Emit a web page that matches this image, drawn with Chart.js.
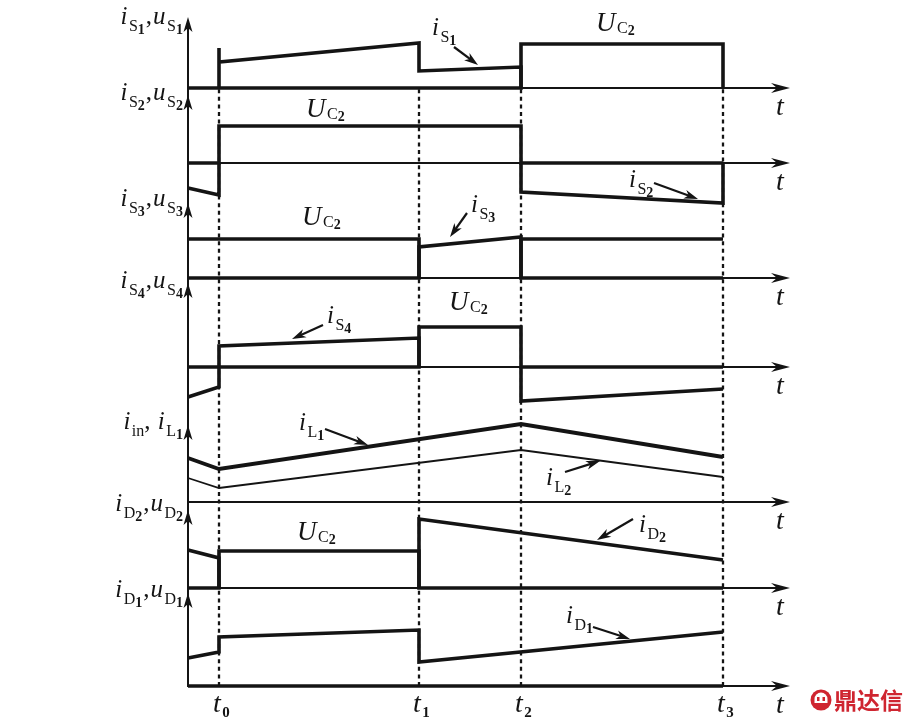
<!DOCTYPE html>
<html>
<head>
<meta charset="utf-8">
<script src="https://cdn.jsdelivr.net/npm/chart.js@4/dist/chart.umd.min.js"></script>
<style>
html,body{margin:0;padding:0;background:#fff;}
#wrap{width:911px;height:721px;position:relative;}
</style>
</head>
<body>
<div id="wrap"><canvas id="c"></canvas></div>
<script>
// ---------- switching instants (time axis) ----------
const T_TICKS = [0.31, 2.31, 3.33, 5.35];          // t0 .. t3
const T_TICK_SUBS = ['0', '1', '2', '3'];          // tick label subscripts
const T_END = 6.02;                                 // end of time axes (arrow tip)
const [t0, t1, t2, t3] = T_TICKS;

// ---------- waveforms: [time, value] (value relative to the panel's zero line) ----------
const uS1 = [[0,0],[t2,0],[t2,4.4],[t3,4.4],[t3,0]];
const iS1 = [[t0,0],[t0,4.0],[t0,2.6],[t1,4.5],[t1,1.7],[t2,2.1],[t2,0]];
const uS2 = [[0,0],[t0,0],[t0,3.7],[t2,3.7],[t2,0],[t3,0]];
const iS2 = [[0,-2.5],[t0,-3.2],[t0,0],null,[t2,0],[t2,-2.9],[t3,-4.0],[t3,0]];
const uS3 = [[0,3.9],[t1,3.9],[t1,0],null,[t2,0],[t2,3.9],[t3,3.9]];
const iS3 = [[0,0],[t1,0],[t1,3.1],[t2,4.1],[t2,0],[t3,0]];
const uS4 = [[0,0],[t1,0],[t1,4.0],[t2,4.0],[t2,0],[t3,0]];
const iS4 = [[0,-3.0],[t0,-2.0],[t0,2.1],[t1,2.9],[t1,0],null,[t2,0],[t2,-3.4],[t3,-2.2]];
const iL1 = [[0,4.4],[t0,3.3],[t2,7.8],[t3,4.5]];
const iL2 = [[0,2.4],[t0,1.4],[t2,5.2],[t3,2.5]];
const uD2 = [[0,0],[t0,0],[t0,3.7],[t1,3.7],[t1,0],[t3,0]];
const iD2 = [[0,3.8],[t0,3.0],[t0,0],null,[t1,0],[t1,6.9],[t3,2.8]];
const uD1 = [[0,0],[t3,0]];
const iD1 = [[0,2.8],[t0,3.4],[t0,4.9],[t1,5.6],[t1,2.4],[t3,5.4]];

// ---------- axis labels (rich text segments: m italic, n upright, s subscript, d bold sub-digit) ----------
const AXIS_LABELS = [
  [['i','m'],['S','s'],['1','d'],[',','n'],['u','m'],['S','s'],['1','d']],
  [['i','m'],['S','s'],['2','d'],[',','n'],['u','m'],['S','s'],['2','d']],
  [['i','m'],['S','s'],['3','d'],[',','n'],['u','m'],['S','s'],['3','d']],
  [['i','m'],['S','s'],['4','d'],[',','n'],['u','m'],['S','s'],['4','d']],
  [['i','m'],['in','s'],[', ','n'],['i','m'],['L','s'],['1','d']],
  [['i','m'],['D','s'],['2','d'],[',','n'],['u','m'],['D','s'],['2','d']],
  [['i','m'],['D','s'],['1','d'],[',','n'],['u','m'],['D','s'],['1','d']]
];
const UC2 = [['U','m'],['C','S'],['2','D']];

// ---------- layout (positions, not data) ----------
const PANEL_OFFSET = [59.8, 52.3, 40.8, 31.9, 18.4, 9.8, 0];   // zero line of each panel
const AXIS_TOP     = [7.1, 6.8, 7.5, 8.4, 7.7, 7.8, 9.3];      // arrow tip height
const LABEL_V      = [6.4, 6.3, 7.2, 7.9, 7.3, 7.7, 8.9];      // axis label baseline

// annotations: panel, time, value, text, size ; arrows: panel, from, to
const NOTES = [
  {p:0, t:4.08, v:5.7, segs:UC2, M:27},
  {p:0, t:2.44, v:5.3, segs:[['i','m'],['S','s'],['1','d']], M:25, arrow:[2.66,4.1,2.90,2.3]},
  {p:1, t:1.18, v:4.6, segs:UC2, M:27},
  {p:1, t:4.41, v:-2.4, segs:[['i','m'],['S','s'],['2','d']], M:25, arrow:[4.66,-2.0,5.10,-3.6]},
  {p:2, t:1.14, v:5.3, segs:UC2, M:27},
  {p:2, t:2.83, v:6.6, segs:[['i','m'],['S','s'],['3','d']], M:25, arrow:[2.79,6.5,2.62,4.1]},
  {p:3, t:2.61, v:5.7, segs:UC2, M:27},
  {p:3, t:1.39, v:4.4, segs:[['i','m'],['S','s'],['4','d']], M:25, arrow:[1.35,4.2,1.04,2.8]},
  {p:4, t:1.11, v:7.2, segs:[['i','m'],['L','s'],['1','d']], M:25, arrow:[1.37,7.3,1.80,5.7]},
  {p:4, t:3.58, v:1.7, segs:[['i','m'],['L','s'],['2','d']], M:25, arrow:[3.77,3.0,4.12,4.1]},
  {p:5, t:1.09, v:4.8, segs:UC2, M:27},
  {p:5, t:4.51, v:5.6, segs:[['i','m'],['D','s'],['2','d']], M:25, arrow:[4.45,6.9,4.09,4.8]},
  {p:6, t:3.78, v:6.3, segs:[['i','m'],['D','s'],['1','d']], M:25, arrow:[4.05,5.9,4.42,4.7]}
];

const INK = '#141414';
const SERIF = '"Liberation Serif","DejaVu Serif",serif';

const WAVES = [
  {data:uS1, p:0, w:3.6}, {data:iS1, p:0, w:3.6},
  {data:uS2, p:1, w:3.6}, {data:iS2, p:1, w:3.6},
  {data:uS3, p:2, w:3.6}, {data:iS3, p:2, w:3.6},
  {data:uS4, p:3, w:3.6}, {data:iS4, p:3, w:3.6},
  {data:iL1, p:4, w:3.8}, {data:iL2, p:4, w:1.8},
  {data:uD2, p:5, w:3.6}, {data:iD2, p:5, w:3.6},
  {data:uD1, p:6, w:3.6}, {data:iD1, p:6, w:3.6}
];

function toPoints(arr, p){
  const out = []; let lastX = 0;
  for (const pt of arr){
    if (pt === null){ out.push({x:lastX, y:null}); }
    else { lastX = pt[0]; out.push({x:pt[0], y:PANEL_OFFSET[p] + pt[1]}); }
  }
  return out;
}

const datasets = [];
WAVES.forEach(w => datasets.push({
  data: toPoints(w.data, w.p), borderColor: INK, borderWidth: w.w,
  pointRadius: 0, tension: 0, spanGaps: false, fill: false,
  borderJoinStyle: 'miter', borderCapStyle: 'butt', order: 1
}));
T_TICKS.forEach(t => datasets.push({
  data: [{x:t, y:PANEL_OFFSET[6]}, {x:t, y:PANEL_OFFSET[0]}],
  borderColor: INK, borderWidth: 2.3, borderDash: [4, 3.6],
  pointRadius: 0, tension: 0, fill: false, borderCapStyle: 'butt', order: 10
}));

// ---------- rich text ----------
const STY = {
  m: M => ({font:`italic ${M}px ${SERIF}`, dy:0, gap:1.5}),
  n: M => ({font:`${M}px ${SERIF}`, dy:0, gap:1}),
  s: M => ({font:`${Math.round(M*0.62)}px ${SERIF}`, dy:M*0.27, gap:0}),
  d: M => ({font:`bold ${Math.round(M*0.54)}px ${SERIF}`, dy:M*0.40, gap:1}),
  S: M => ({font:`${Math.round(M*0.58)}px ${SERIF}`, dy:M*0.06, gap:0}),
  D: M => ({font:`bold ${Math.round(M*0.5)}px ${SERIF}`, dy:M*0.14, gap:0}),
  T: M => ({font:`bold ${Math.round(M*0.55)}px ${SERIF}`, dy:M*0.18, gap:0})
};
function rich(ctx, x, y, segs, M, align){
  const items = segs.map(([txt,k]) => {
    const st = STY[k](M); ctx.font = st.font;
    return {txt, st, w: ctx.measureText(txt).width + st.gap};
  });
  const W = items.reduce((a,b)=>a+b.w, 0);
  let cx = align === 'right' ? x - W : (align === 'center' ? x - W/2 : x);
  ctx.textAlign = 'left'; ctx.textBaseline = 'alphabetic'; ctx.fillStyle = INK;
  for (const it of items){ ctx.font = it.st.font; ctx.fillText(it.txt, cx, y + it.st.dy); cx += it.w; }
}

function arrowHead(ctx, x, y, ang, len, half, notch){
  ctx.save(); ctx.translate(x, y); ctx.rotate(ang);
  ctx.beginPath(); ctx.moveTo(0,0); ctx.lineTo(-len,-half); ctx.lineTo(-len+notch,0); ctx.lineTo(-len,half); ctx.closePath();
  ctx.fill(); ctx.restore();
}

const overlay = {
  id: 'overlay',
  beforeDatasetsDraw(chart){
    const ctx = chart.ctx, xs = chart.scales.x, ys = chart.scales.y;
    const X = t => xs.getPixelForValue(t);
    const Y = (p, v) => ys.getPixelForValue(PANEL_OFFSET[p] + v);
    ctx.save();
    ctx.strokeStyle = INK; ctx.fillStyle = INK; ctx.lineWidth = 2;
    const x0 = X(0);
    ctx.beginPath(); ctx.moveTo(x0, Y(0, AXIS_TOP[0]) + 6); ctx.lineTo(x0, Y(6, 0) + 1); ctx.stroke();
    for (let p = 0; p < 7; p++){
      const yb = Y(p, 0);
      ctx.lineWidth = 2;
      ctx.beginPath(); ctx.moveTo(x0, yb); ctx.lineTo(X(T_END) - 8, yb); ctx.stroke();
      arrowHead(ctx, X(T_END), yb, 0, 19, 5, 6);
      arrowHead(ctx, x0, Y(p, AXIS_TOP[p]), -Math.PI/2, 15, 4.5, 4);
    }
    ctx.restore();
  },
  afterDatasetsDraw(chart){
    const ctx = chart.ctx, xs = chart.scales.x, ys = chart.scales.y;
    const X = t => xs.getPixelForValue(t);
    const Y = (p, v) => ys.getPixelForValue(PANEL_OFFSET[p] + v);
    ctx.save();
    ctx.fillStyle = INK; ctx.strokeStyle = INK;
    for (let p = 0; p < 7; p++){
      rich(ctx, X(0) - 4, Y(p, LABEL_V[p]), AXIS_LABELS[p], 25, 'right');
      rich(ctx, X(T_END) - 14, Y(p, 0) + 27, [['t','m']], 28, 'left');
    }
    for (const n of NOTES){
      rich(ctx, X(n.t), Y(n.p, n.v), n.segs, n.M, 'left');
      if (n.arrow){
        const [ta, va, tb, vb] = n.arrow;
        const xa = X(ta), ya = Y(n.p, va), xb = X(tb), yb = Y(n.p, vb);
        const ang = Math.atan2(yb - ya, xb - xa);
        ctx.lineWidth = 2.2;
        ctx.beginPath(); ctx.moveTo(xa, ya); ctx.lineTo(xb - 8*Math.cos(ang), yb - 8*Math.sin(ang)); ctx.stroke();
        arrowHead(ctx, xb, yb, ang, 14, 4.5, 4);
      }
    }
    T_TICKS.forEach((t, i) => {
      rich(ctx, X(t) - 6, Y(6, 0) + 26, [['t','m'], [T_TICK_SUBS[i], 'T']], 28, 'left');
    });
    const red = '#cf2530';
    ctx.fillStyle = red;
    ctx.beginPath(); ctx.arc(821, 700, 10.5, 0, Math.PI*2); ctx.fill();
    ctx.fillStyle = '#fff';
    ctx.beginPath(); ctx.arc(821, 699, 6.5, Math.PI, 0); ctx.lineTo(827.5, 703); ctx.lineTo(814.5, 703); ctx.closePath(); ctx.fill();
    ctx.fillStyle = red;
    ctx.fillRect(817, 697, 2.5, 4); ctx.fillRect(822.5, 697, 2.5, 4);
    ctx.font = `bold 23px "Noto Sans CJK SC", sans-serif`;
    ctx.textAlign = 'left'; ctx.textBaseline = 'middle';
    ctx.fillText('鼎达信', 834, 700);
    ctx.restore();
  }
};

new Chart(document.getElementById('c'), {
  type: 'line',
  data: { datasets },
  options: {
    responsive: true, maintainAspectRatio: false, animation: false, events: [],
    layout: { padding: 0 },
    plugins: { legend: {display:false}, tooltip: {enabled:false} },
    scales: {
      x: { type:'linear', min:-1.88, max:7.23, display:false },
      y: { type:'linear', min:-3.5, max:68.6, display:false }
    }
  },
  plugins: [overlay]
});
</script>
</body>
</html>
